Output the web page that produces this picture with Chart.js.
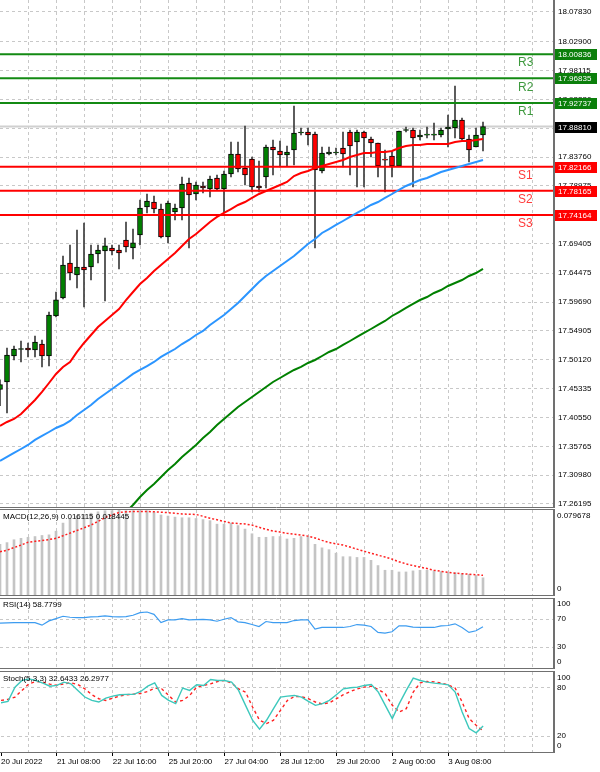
<!DOCTYPE html>
<html>
<head>
<meta charset="utf-8">
<title>H4 chart</title>
<script src="https://cdn.jsdelivr.net/npm/chart.js@4.4.1/dist/chart.umd.min.js"></script>
<style>
  html, body { margin: 0; padding: 0; background: #fff; }
  #wrap { position: relative; width: 600px; height: 772px; overflow: hidden; background: #fff; }
  canvas { position: absolute; left: 0; }
</style>
</head>
<body>
<div id="wrap">
  <canvas id="cMain" width="600" height="508" style="top:0"></canvas>
  <canvas id="cMacd" width="600" height="89" style="top:508px"></canvas>
  <canvas id="cRsi" width="600" height="73" style="top:597px"></canvas>
  <canvas id="cStoch" width="600" height="102" style="top:670px"></canvas>
</div>
<script>
// ---- data: H4 candles, first entry = 20 Jul 00:00 ----
const open = [17.4520,
  17.4644, 17.5075, 17.5183, 17.5208, 17.5175, 17.5274, 17.5075, 17.5739, 17.6038, 17.6618,
  17.6419, 17.6552, 17.6552, 17.6768, 17.6818, 17.6867, 17.6834, 17.7000, 17.6867, 17.7083,
  17.7547, 17.7631, 17.7514, 17.7050, 17.7464, 17.7531, 17.7946, 17.7763, 17.7896, 17.7846,
  17.8028, 17.7846, 17.8095, 17.8427, 17.8194, 17.8344, 17.7896, 17.8045, 17.8543, 17.8477,
  17.8410, 17.8493, 17.8775, 17.8792, 17.8759, 17.8145, 17.8427, 17.8443, 17.8526, 17.8792,
  17.8626, 17.8792, 17.8676, 17.8609, 17.8330, 17.8394, 17.8228, 17.8817, 17.8825, 17.8709,
  17.8740, 17.8740, 17.8742, 17.8842, 17.8858, 17.8991, 17.8676, 17.8543, 17.8742];
const high = [17.4680,
  17.5208, 17.5241, 17.5324, 17.5291, 17.5407, 17.5341, 17.5805, 17.6137, 17.6734, 17.6917,
  17.7166, 17.7282, 17.6917, 17.6917, 17.7033, 17.6917, 17.6917, 17.7299, 17.7182, 17.7664,
  17.7763, 17.7730, 17.7597, 17.7647, 17.7597, 17.8045, 17.8028, 17.7962, 17.7962, 17.8062,
  17.8078, 17.8145, 17.8626, 17.8626, 17.8891, 17.8377, 17.8311, 17.8576, 17.8659, 17.8643,
  17.8560, 17.9223, 17.8858, 17.8858, 17.8792, 17.8543, 17.8543, 17.8526, 17.8792, 17.8825,
  17.8825, 17.8808, 17.8709, 17.8609, 17.8493, 17.8460, 17.8808, 17.8875, 17.8858, 17.8825,
  17.8875, 17.8941, 17.8858, 17.9074, 17.9555, 17.9024, 17.8742, 17.8858, 17.8958];
const low = [17.4250,
  17.4129, 17.5009, 17.4975, 17.5058, 17.5058, 17.4892, 17.4909, 17.5723, 17.6021, 17.6337,
  17.6203, 17.5889, 17.6337, 17.6618, 17.5988, 17.6751, 17.6519, 17.6801, 17.6685, 17.6917,
  17.7448, 17.7448, 17.7033, 17.6951, 17.7332, 17.7332, 17.6867, 17.7664, 17.7780, 17.7714,
  17.7830, 17.7448, 17.8045, 17.8128, 17.7912, 17.7797, 17.7797, 17.7863, 17.8078, 17.8211,
  17.8228, 17.8244, 17.8742, 17.8576, 17.6867, 17.8111, 17.8410, 17.8410, 17.8211, 17.8078,
  17.7879, 17.7879, 17.8377, 17.8045, 17.7797, 17.8045, 17.8228, 17.8792, 17.7879, 17.8659,
  17.8692, 17.8659, 17.8709, 17.8543, 17.8692, 17.8659, 17.8294, 17.8543, 17.8477];
const close = [17.4600,
  17.5092, 17.5191, 17.5191, 17.5175, 17.5307, 17.5075, 17.5756, 17.6005, 17.6585, 17.6452,
  17.6552, 17.6502, 17.6768, 17.6834, 17.6901, 17.6818, 17.6784, 17.6884, 17.6951, 17.7531,
  17.7647, 17.7514, 17.7050, 17.7614, 17.7531, 17.7929, 17.7747, 17.7912, 17.7863, 17.8012,
  17.7846, 17.8095, 17.8427, 17.8178, 17.8078, 17.7879, 17.7863, 17.8543, 17.8493, 17.8410,
  17.8460, 17.8775, 17.8792, 17.8742, 17.8161, 17.8443, 17.8460, 17.8460, 17.8427, 17.8560,
  17.8792, 17.8692, 17.8609, 17.8228, 17.8325, 17.8228, 17.8808, 17.8825, 17.8692, 17.8742,
  17.8745, 17.8745, 17.8825, 17.8875, 17.8991, 17.8676, 17.8493, 17.8742, 17.8881];

// moving averages (red, blue, green)
const maRed = [17.3914,
  17.3980, 17.4030, 17.4113, 17.4229, 17.4345, 17.4478, 17.4627, 17.4777, 17.4893, 17.4976,
  17.5142, 17.5291, 17.5424, 17.5556, 17.5656, 17.5756, 17.5855, 17.6004, 17.6137, 17.6270,
  17.6369, 17.6486, 17.6585, 17.6685, 17.6784, 17.6900, 17.7017, 17.7100, 17.7199, 17.7299,
  17.7382, 17.7448, 17.7514, 17.7581, 17.7630, 17.7697, 17.7763, 17.7813, 17.7863, 17.7913,
  17.7962, 17.8062, 17.8112, 17.8145, 17.8195, 17.8228, 17.8261, 17.8294, 17.8327, 17.8377,
  17.8410, 17.8443, 17.8443, 17.8460, 17.8460, 17.8477, 17.8526, 17.8560, 17.8576, 17.8576,
  17.8593, 17.8593, 17.8593, 17.8593, 17.8626, 17.8643, 17.8643, 17.8659, 17.8676];
const maBlue = [17.3333,
  17.3400, 17.3466, 17.3532, 17.3599, 17.3682, 17.3748, 17.3814, 17.3881, 17.3930, 17.3997,
  17.4096, 17.4179, 17.4262, 17.4362, 17.4445, 17.4528, 17.4611, 17.4694, 17.4777, 17.4843,
  17.4909, 17.4976, 17.5059, 17.5125, 17.5191, 17.5274, 17.5341, 17.5424, 17.5490, 17.5590,
  17.5673, 17.5756, 17.5855, 17.5955, 17.6071, 17.6187, 17.6303, 17.6403, 17.6486, 17.6569,
  17.6652, 17.6734, 17.6834, 17.6934, 17.7017, 17.7116, 17.7182, 17.7249, 17.7315, 17.7382,
  17.7448, 17.7514, 17.7581, 17.7630, 17.7697, 17.7763, 17.7830, 17.7896, 17.7946, 17.7995,
  17.8028, 17.8078, 17.8128, 17.8161, 17.8195, 17.8228, 17.8261, 17.8294, 17.8327];
const maGreen = [null, null, null, null, null, null, null, null, null, null,
  null, null, null, null, null, null, null, null,
  17.2487, 17.2603, 17.2736, 17.2852, 17.2952, 17.3068, 17.3184, 17.3283, 17.3400, 17.3499,
  17.3599, 17.3715, 17.3814, 17.3930, 17.4030, 17.4130, 17.4229, 17.4312, 17.4395, 17.4478,
  17.4561, 17.4644, 17.4710, 17.4777, 17.4843, 17.4893, 17.4959, 17.5009, 17.5075, 17.5142,
  17.5191, 17.5258, 17.5324, 17.5391, 17.5457, 17.5523, 17.5590, 17.5656, 17.5739, 17.5805,
  17.5872, 17.5938, 17.6004, 17.6054, 17.6121, 17.6170, 17.6237, 17.6287, 17.6336, 17.6403,
  17.6452, 17.6519];

// MACD(12,26,9)
const macdMain = [0.0475,
  0.0491, 0.0518, 0.0531, 0.0541, 0.0548, 0.0558, 0.0564, 0.0598, 0.0674, 0.0717,
  0.0740, 0.0757, 0.0767, 0.0780, 0.0790, 0.0790, 0.0796, 0.0790, 0.0790, 0.0790,
  0.0790, 0.0774, 0.0750, 0.0740, 0.0730, 0.0724, 0.0724, 0.0717, 0.0707, 0.0697,
  0.0664, 0.0664, 0.0674, 0.0651, 0.0618, 0.0574, 0.0541, 0.0541, 0.0548, 0.0548,
  0.0525, 0.0531, 0.0548, 0.0548, 0.0475, 0.0442, 0.0425, 0.0392, 0.0359, 0.0359,
  0.0352, 0.0352, 0.0325, 0.0276, 0.0232, 0.0232, 0.0216, 0.0216, 0.0226, 0.0232,
  0.0232, 0.0226, 0.0219, 0.0209, 0.0209, 0.0199, 0.0193, 0.0183, 0.0161];
const macdSignal = [0.0405,
  0.0420, 0.0445, 0.0468, 0.0495, 0.0503, 0.0510, 0.0520, 0.0531, 0.0555, 0.0580,
  0.0605, 0.0630, 0.0656, 0.0690, 0.0725, 0.0750, 0.0773, 0.0780, 0.0783, 0.0784,
  0.0783, 0.0780, 0.0776, 0.0772, 0.0766, 0.0760, 0.0757, 0.0755, 0.0738, 0.0720,
  0.0705, 0.0690, 0.0675, 0.0670, 0.0666, 0.0655, 0.0635, 0.0615, 0.0600, 0.0590,
  0.0578, 0.0570, 0.0562, 0.0552, 0.0535, 0.0512, 0.0492, 0.0480, 0.0468, 0.0450,
  0.0430, 0.0410, 0.0392, 0.0373, 0.0356, 0.0336, 0.0312, 0.0292, 0.0276, 0.0262,
  0.0248, 0.0232, 0.0222, 0.0212, 0.0205, 0.0200, 0.0195, 0.0190, 0.0184];

// RSI(14)
const rsi = [64.0,
  64.5, 64.9, 64.9, 64.9, 64.9, 61.2, 67.3, 70.6, 73.9, 72.5,
  72.0, 72.0, 72.9, 73.4, 74.4, 73.4, 72.9, 73.4, 75.3, 79.1,
  80.0, 76.7, 64.9, 68.7, 68.7, 70.6, 68.7, 69.2, 69.6, 68.7,
  66.8, 69.6, 72.0, 65.9, 64.9, 62.1, 59.3, 66.4, 64.9, 64.9,
  64.9, 67.8, 68.7, 68.7, 55.5, 57.9, 57.9, 57.9, 57.9, 59.3,
  62.1, 61.2, 59.3, 50.8, 49.9, 51.8, 60.2, 60.2, 58.4, 57.9,
  57.9, 57.9, 60.2, 60.7, 63.1, 57.9, 50.8, 53.2, 58.8];

// Stoch(5,3,3)
const stochK = [61.6,
  63.3, 81.1, 89.4, 91.4, 89.4, 86.1, 82.3, 83.2, 87.3, 85.2,
  77.0, 68.7, 64.5, 62.5, 67.4, 69.9, 71.6, 72.0, 72.0, 75.7,
  82.3, 86.5, 70.7, 64.5, 60.4, 79.9, 77.0, 84.0, 83.2, 90.6,
  89.4, 89.4, 87.3, 77.0, 58.3, 39.7, 28.5, 39.7, 54.2, 68.7,
  69.9, 70.7, 68.7, 63.3, 58.3, 60.4, 64.5, 71.6, 79.0, 80.3,
  81.1, 83.2, 84.4, 74.9, 58.3, 41.8, 60.4, 77.0, 92.3, 89.4,
  87.3, 86.1, 85.2, 84.0, 74.9, 50.1, 29.4, 24.0, 32.6];
const stochD = [64.5,
  65.8, 68.7, 77.0, 85.2, 88.1, 87.3, 84.8, 83.2, 85.2, 86.5,
  84.4, 79.0, 71.6, 66.6, 64.5, 67.4, 69.9, 71.6, 72.4, 73.2,
  75.7, 79.9, 79.0, 70.7, 62.5, 64.5, 70.7, 81.1, 83.2, 85.2,
  88.1, 89.4, 86.1, 79.0, 74.9, 56.3, 39.7, 35.6, 39.7, 52.1,
  64.5, 69.5, 69.1, 66.6, 62.5, 60.0, 61.6, 66.6, 71.6, 75.7,
  79.0, 81.1, 82.3, 78.2, 72.8, 58.3, 50.1, 54.2, 74.9, 86.5,
  88.1, 87.7, 86.1, 84.0, 79.9, 62.5, 41.8, 33.5, 26.3];

// pivot levels and last price
const levelNames = ['R3', 'R2', 'R1', 'S1', 'S2', 'S3'];
const levelValues = [18.00836, 17.96835, 17.92737, 17.82166, 17.78165, 17.74164];
const lastPrice = 17.88810;

// axis ticks
const priceTicks = [17.26195, 17.30980, 17.35765, 17.40550, 17.45335, 17.50120, 17.54905, 17.59690,
  17.64475, 17.69405, 17.74190, 17.78975, 17.83760, 17.88545, 17.93330, 17.98115, 18.02900, 18.07830];
const hiddenPriceTicks = [17.88545];
const timeTickIdx = [-1, 7, 15, 23, 31, 39, 47, 55, 63];
const timeTickText = ['20 Jul 2022', '21 Jul 08:00', '22 Jul 16:00', '25 Jul 20:00', '27 Jul 04:00',
  '28 Jul 12:00', '29 Jul 20:00', '2 Aug 00:00', '3 Aug 08:00'];
const macdAxis = [0, 0.079678];
const rsiAxis = [0, 30, 70, 100];
const stochAxis = [0, 20, 80, 100];

// ---- setup ----
const FONT = 'Liberation Sans';
Chart.defaults.font.family = FONT;
Chart.defaults.font.size = 8;
Chart.defaults.color = '#000';

const X_MIN = -1, X_MAX = 78;
const Y_MAX = 18.0982, Y_MIN = 17.2553;
const GRID = '#c8c8c8';
const AXIS = '#707070';
const CLEAR = 'rgba(0,0,0,0)';

const xs = open.map((_, k) => k + X_MIN);
const gridIdx = [];
for (let v = X_MIN; v <= 75; v += 4) gridIdx.push(v);

const pts = arr => xs.map((x, k) => ({ x, y: arr[k] }));

function xAxis(bottom) {
  return {
    type: 'linear', min: X_MIN, max: X_MAX, offset: false,
    afterBuildTicks: s => { s.ticks = gridIdx.map(v => ({ value: v })); },
    afterFit: s => { s.height = bottom ? 20 : 0; },
    grid: {
      offset: false,
      color: c => (c.tick && c.tick.value === X_MIN) ? CLEAR : GRID,
      drawTicks: bottom, tickLength: 4,
      tickColor: c => (c.tick && timeTickIdx.includes(c.tick.value)) ? '#000' : CLEAR
    },
    border: { display: false, dash: [3, 3] },
    ticks: {
      display: bottom, autoSkip: false, maxRotation: 0, minRotation: 0, align: 'start', padding: 1,
      callback: v => { const k = timeTickIdx.indexOf(v); return k < 0 ? '' : timeTickText[k]; }
    }
  };
}

function yAxis(min, max, gridVals) {
  return {
    type: 'linear', position: 'right', min, max,
    afterBuildTicks: s => { s.ticks = gridVals.map(v => ({ value: v })); },
    afterFit: s => { s.width = 47; },
    grid: { color: GRID, drawTicks: false },
    border: { display: false, dash: [3, 3] },
    ticks: { display: false }
  };
}

function hline(ctx, x1, y1, x2, y2) {
  ctx.beginPath(); ctx.moveTo(x1, y1); ctx.lineTo(x2, y2); ctx.stroke();
}

const baseOpts = {
  responsive: false, animation: false, events: [],
  plugins: { legend: { display: false }, tooltip: { enabled: false } }
};

// ---- main price panel ----
const mainDeco = {
  id: 'mainDeco',
  afterDatasetsDraw(chart) {
    const { ctx, chartArea: a, scales: { y } } = chart;
    ctx.save();
    ctx.strokeStyle = AXIS;
    ctx.lineWidth = 1;
    hline(ctx, 0, a.bottom - 0.5, a.right, a.bottom - 0.5);
    ctx.lineWidth = 2;
    hline(ctx, a.right + 1, 0, a.right + 1, chart.height);

    ctx.textBaseline = 'middle';
    ctx.textAlign = 'left';

    // price scale labels
    ctx.font = '8px "' + FONT + '"';
    ctx.fillStyle = '#000';
    priceTicks.forEach(v => {
      if (hiddenPriceTicks.includes(v)) return;
      ctx.fillText(v.toFixed(5), 558, y.getPixelForValue(v));
    });

    // pivot names
    ctx.font = '12px "' + FONT + '"';
    levelValues.forEach((v, k) => {
      const py = y.getPixelForValue(v);
      ctx.fillStyle = levelNames[k][0] === 'R' ? '#3f9a3f' : '#ff3b3b';
      ctx.fillText(levelNames[k], 518, py + 9);
    });

    // value boxes on the price scale
    ctx.font = '8px "' + FONT + '"';
    const boxes = levelValues.map((v, k) => ({ v, bg: levelNames[k][0] === 'R' ? '#0b7f0b' : '#ff0000' }));
    boxes.push({ v: lastPrice, bg: '#000' });
    boxes.forEach(b => {
      const py = Math.round(y.getPixelForValue(b.v));
      ctx.fillStyle = b.bg;
      ctx.fillRect(555, py - 5, 42, 11);
      ctx.fillStyle = '#fff';
      ctx.fillText(b.v.toFixed(5), 558, py + 0.5);
    });
    ctx.restore();
  }
};

const levelSets = levelValues.map((v, k) => ({
  type: 'line',
  data: [{ x: X_MIN, y: v }, { x: X_MAX, y: v }],
  borderColor: levelNames[k][0] === 'R' ? '#138a13' : '#ff0000',
  borderWidth: 2, pointRadius: 0, order: 2
}));

new Chart(document.getElementById('cMain'), {
  type: 'bar',
  data: {
    datasets: [
      { type: 'line', data: [{ x: X_MIN, y: lastPrice }, { x: X_MAX, y: lastPrice }],
        borderColor: '#d0d0d0', borderWidth: 2, pointRadius: 0, order: 8 },
      { data: xs.map((x, k) => ({ x, y: [low[k], high[k]] })),
        backgroundColor: '#3c3c3c', barThickness: 1, grouped: false, borderWidth: 0, order: 6 },
      { data: xs.map((x, k) => ({ x, y: [open[k], close[k]] })),
        backgroundColor: xs.map((x, k) => close[k] >= open[k] ? '#008000' : '#ff0000'),
        borderColor: '#000', borderWidth: 1, borderSkipped: false,
        barThickness: 5, grouped: false, minBarLength: 1, order: 5 },
      ...levelSets,
      { type: 'line', data: pts(maGreen), borderColor: '#008000', borderWidth: 2, pointRadius: 0, order: 1 },
      { type: 'line', data: pts(maBlue), borderColor: '#2b95ff', borderWidth: 2, pointRadius: 0, order: 1 },
      { type: 'line', data: pts(maRed), borderColor: '#ff0000', borderWidth: 2, pointRadius: 0, order: 1 }
    ]
  },
  options: {
    ...baseOpts,
    layout: { padding: 0 },
    scales: { x: xAxis(false), y: yAxis(Y_MIN, Y_MAX, priceTicks) }
  },
  plugins: [mainDeco]
});

// ---- indicator panels ----
function panelDeco(title, axisVals, fmt) {
  return {
    id: 'panelDeco',
    afterDatasetsDraw(chart) {
      const { ctx, chartArea: a, scales: { y } } = chart;
      ctx.save();
      ctx.strokeStyle = AXIS;
      ctx.lineWidth = 1;
      hline(ctx, 0, 1.5, a.right, 1.5);
      hline(ctx, 0, a.bottom + 0.5, a.right, a.bottom + 0.5);
      ctx.lineWidth = 2;
      hline(ctx, a.right + 1, 1, a.right + 1, a.bottom + 1);

      ctx.font = '8px "' + FONT + '"';
      ctx.textBaseline = 'middle';
      ctx.textAlign = 'left';
      ctx.fillStyle = '#000';
      ctx.fillText(title, 3, a.top + 7);
      axisVals.forEach(v => {
        let py = y.getPixelForValue(v);
        py = Math.min(Math.max(py, a.top + 6), a.bottom - 6);
        ctx.fillText(fmt(v), 557, py);
      });
      ctx.restore();
    }
  };
}

new Chart(document.getElementById('cMacd'), {
  type: 'bar',
  data: {
    datasets: [
      { data: pts(macdMain), backgroundColor: '#c4c4c4', barThickness: 2, grouped: false, order: 2 },
      { type: 'line', data: pts(macdSignal), borderColor: '#ff2020', borderWidth: 1.5,
        borderDash: [2, 2], pointRadius: 0, order: 1 }
    ]
  },
  options: {
    ...baseOpts,
    layout: { padding: { top: 2, bottom: 2 } },
    scales: { x: xAxis(false), y: yAxis(0, 0.079678, []) }
  },
  plugins: [panelDeco('MACD(12,26,9) 0.016115 0.018445', macdAxis, v => v === 0 ? '0' : v.toFixed(6))]
});

new Chart(document.getElementById('cRsi'), {
  type: 'line',
  data: {
    datasets: [
      { data: pts(rsi), borderColor: '#3d9cf0', borderWidth: 1.2, pointRadius: 0 }
    ]
  },
  options: {
    ...baseOpts,
    layout: { padding: { top: 1, bottom: 2 } },
    scales: { x: xAxis(false), y: yAxis(0, 100, [30, 70]) }
  },
  plugins: [panelDeco('RSI(14) 58.7799', rsiAxis, v => String(v))]
});

new Chart(document.getElementById('cStoch'), {
  type: 'line',
  data: {
    datasets: [
      { data: pts(stochK), borderColor: '#3cc8bc', borderWidth: 1.4, pointRadius: 0, order: 1 },
      { data: pts(stochD), borderColor: '#ff2020', borderWidth: 1.4, borderDash: [3, 3], pointRadius: 0, order: 2 }
    ]
  },
  options: {
    ...baseOpts,
    layout: { padding: { top: 2 } },
    scales: { x: xAxis(true), y: yAxis(0, 100, [20, 80]) }
  },
  plugins: [panelDeco('Stoch(5,3,3) 32.6433 26.2977', stochAxis, v => String(v))]
});
</script>
</body>
</html>
